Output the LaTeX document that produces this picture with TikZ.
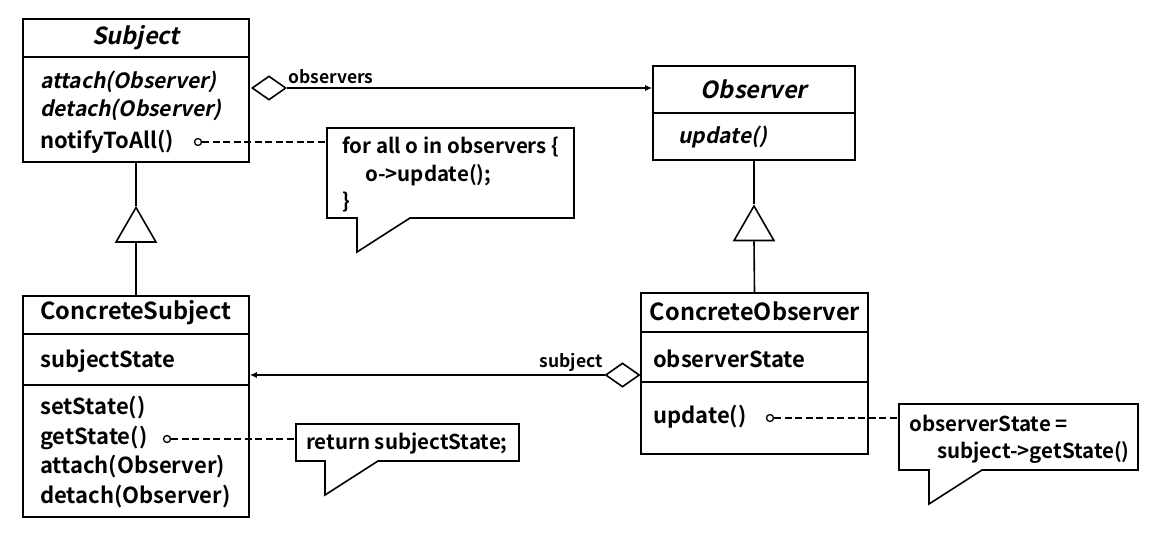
\documentclass[tikz,border=0pt]{standalone}
\usepackage{fontspec}
\newfontfamily\umlfont{Noto Sans CJK KR Bold}
\newfontfamily\umlitfont{Noto Sans CJK KR Bold}[FakeSlant=0.2]
\usetikzlibrary{shapes.geometric,arrows.meta}
\tikzset{
  classbox/.style={draw,line width=1.6pt,inner sep=0pt},
  member/.style={anchor=west,inner sep=0pt,font=\umlfont\fontsize{22}{26}\selectfont},
  abstract/.style={member,font=\umlitfont\fontsize{21}{25}\selectfont},
  classname/.style={inner sep=0pt,font=\umlfont\fontsize{23.5}{28}\selectfont},
  abstractname/.style={inner sep=0pt,font=\umlitfont\fontsize{23.5}{28}\selectfont},
  notetext/.style={anchor=west,inner sep=0pt,font=\umlfont\fontsize{20.5}{25}\selectfont},
  rolename/.style={inner sep=0pt,font=\umlfont\fontsize{17.5}{20}\selectfont},
  aggr/.style={diamond,draw,line width=1.6pt,fill=white,inner sep=0pt,minimum width=34pt,minimum height=24pt},
  inherit/.style={regular polygon,regular polygon sides=3,draw,line width=1.6pt,inner sep=0pt,minimum size=46pt},
  notedot/.style={circle,draw,line width=1.3pt,inner sep=0pt,minimum size=7pt},
  notelink/.style={line width=1.3pt,dash pattern=on 7pt off 3.5pt},
  notebox/.style={draw,line width=1.6pt,line join=miter,fill=white}
}
\begin{document}
\begin{tikzpicture}[x=1pt,y=-1pt]
  \useasboundingbox (0,0) rectangle (1163,536);

  \node[classbox,minimum width=226pt,minimum height=143pt] (subj) at (136,90.5) {};
  \draw[line width=1.6pt] (subj.west |- 0,57) -- (subj.east |- 0,57);
  \node[abstractname] (subjname) at (136,38) {Subject};
  \node[abstract] (subjattach) at (40,82) {attach(Observer)};
  \node[abstract] (subjdetach) at (40,110) {detach(Observer)};
  \node[member] (subjnotify) at (40,142) {notifyToAll()};

  \node[classbox,minimum width=202pt,minimum height=94pt] (obs) at (754,113) {};
  \draw[line width=1.6pt] (obs.west |- 0,113) -- (obs.east |- 0,113);
  \node[abstractname] (obsname) at (754,89) {Observer};
  \node[abstract] (obsupdate) at (678,137) {update()};

  \node[classbox,minimum width=226pt,minimum height=221pt] (csubj) at (136,406.5) {};
  \draw[line width=1.6pt] (csubj.west |- 0,334) -- (csubj.east |- 0,334);
  \draw[line width=1.6pt] (csubj.west |- 0,385) -- (csubj.east |- 0,385);
  \node[classname] (csubjname) at (136,313) {ConcreteSubject};
  \node[member] (csubjstate) at (40,361) {subjectState};
  \foreach \y/\t/\n in {408/setState()/set,438/getState()/get,467/attach(Observer)/attach,497/detach(Observer)/detach}
    \node[member] (csubj\n) at (40,\y) {\t};

  \node[classbox,minimum width=227pt,minimum height=161pt] (cobs) at (754.5,373.5) {};
  \draw[line width=1.6pt] (cobs.west |- 0,332) -- (cobs.east |- 0,332);
  \draw[line width=1.6pt] (cobs.west |- 0,382) -- (cobs.east |- 0,382);
  \node[classname] (cobsname) at (755,311) {ConcreteObserver};
  \node[member] (cobsstate) at (653,359) {observerState};
  \node[member] (cobsupdate) at (653,417) {update()};

  \node[inherit] (gensubj) at (136,230.5) {};
  \draw[line width=1.6pt] (subj.south) -- (gensubj.corner 1);
  \draw[line width=1.6pt] (gensubj.south) -- (csubj.north);
  \node[inherit] (genobs) at (754,229) {};
  \draw[line width=1.6pt] (obs.south) -- (genobs.corner 1);
  \draw[line width=1.6pt] (genobs.south) -- (cobs.north);

  \node[aggr] (aggobs) at (269,88) {};
  \draw[line width=1.6pt,-{Latex[length=7pt,width=6pt]}] (aggobs.east) -- (aggobs.east -| obs.west);
  \node[rolename,anchor=west] (obsrole) at (288,77) {observers};
  \node[aggr] (aggsubj) at (622.5,375) {};
  \draw[line width=1.6pt,-{Latex[length=7pt,width=6pt]}] (aggsubj.west) -- (aggsubj.west -| csubj.east);
  \node[rolename,anchor=east] (subjrole) at (603,362) {subject};

  \draw[notebox] (327,128) -- (574,128) -- (574,218) -- (410,218) -- (357,252) -- (357,218) -- (327,218) -- cycle;
  \coordinate (notenotify) at (327,142);
  \node[notetext] (notifyline1) at (342,147) {for all o in observers \{};
  \node[notetext] (notifyline2) at (365,175) {o->update();};
  \node[notetext] (notifyline3) at (342,202) {\}};
  \node[notedot] (dotnotify) at (198,142) {};
  \draw[notelink] (dotnotify) -- (notenotify);

  \draw[notebox] (296,424) -- (519,424) -- (519,461) -- (378,461) -- (325,495) -- (325,461) -- (296,461) -- cycle;
  \coordinate (noteget) at (296,439);
  \node[notetext] (getline) at (306,444) {return subjectState;};
  \node[notedot] (dotget) at (167,439) {};
  \draw[notelink] (dotget) -- (noteget);

  \draw[notebox] (899,404) -- (1138,404) -- (1138,470) -- (982,470) -- (929,504) -- (929,470) -- (899,470) -- cycle;
  \coordinate (noteupdate) at (899,418);
  \node[notetext] (updateline1) at (909,423) {observerState =};
  \node[notetext] (updateline2) at (937,452) {subject->getState()};
  \node[notedot] (dotupdate) at (770,418) {};
  \draw[notelink] (dotupdate) -- (noteupdate);
\end{tikzpicture}
\end{document}
